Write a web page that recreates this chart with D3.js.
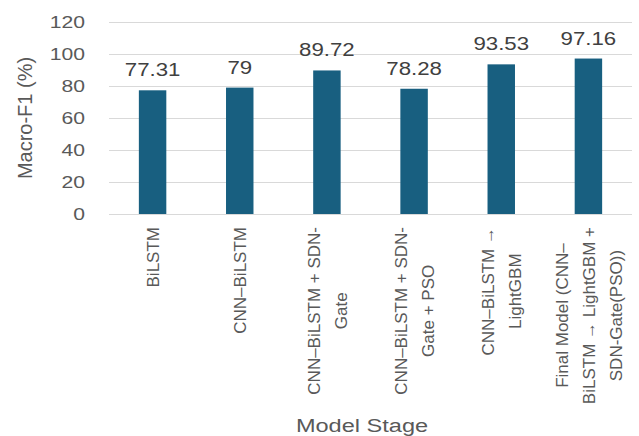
<!DOCTYPE html>
<html><head><meta charset="utf-8">
<script src="https://cdn.jsdelivr.net/npm/d3@7"></script>
<style>body{margin:0;background:#fff}svg{display:block}</style>
</head><body>
<svg id="chart" width="639" height="436"></svg>
<script>
const categories = [
  ["BiLSTM"],
  ["CNN–BiLSTM"],
  ["CNN–BiLSTM + SDN-", "Gate"],
  ["CNN–BiLSTM + SDN-", "Gate + PSO"],
  ["CNN–BiLSTM →", "LightGBM"],
  ["Final Model (CNN–", "BiLSTM → LightGBM +", "SDN-Gate(PSO))"]
];
const values = [77.31, 79, 89.72, 78.28, 93.53, 97.16];
const valueLabels = ["77.31", "79", "89.72", "78.28", "93.53", "97.16"];
const yTicks = [0, 20, 40, 60, 80, 100, 120];
const yTitle = "Macro-F1 (%)";
const xTitle = "Model Stage";

const svg = d3.select("#chart");
const plotLeft = 109, plotRight = 632, plotTop = 22, plotBottom = 214;
const font = "'Liberation Sans', Arial, sans-serif";
const ids = categories.map((c, i) => i);
const x = d3.scaleBand().domain(ids).range([plotLeft, plotRight]).paddingInner(0.685).paddingOuter(0.3425);
const y = d3.scaleLinear().domain([0, 120]).range([plotBottom, plotTop]);

// gridlines
svg.append("g").selectAll("line").data(yTicks).join("line")
  .attr("x1", plotLeft).attr("x2", plotRight)
  .attr("y1", d => y(d) + 0.5).attr("y2", d => y(d) + 0.5)
  .attr("stroke", "#d9d9d9").attr("stroke-width", 1.2);

// y tick labels
svg.append("g").selectAll("text").data(yTicks).join("text")
  .attr("transform", d => `translate(85,${y(d)}) scale(1.32,1)`)
  .attr("text-anchor", "end").attr("dy", "0.36em")
  .attr("font-family", font).attr("font-size", 16).attr("fill", "#595959")
  .text(d => d);

// bars
svg.append("g").selectAll("rect").data(values).join("rect")
  .attr("x", (d, i) => x(i)).attr("width", x.bandwidth())
  .attr("y", d => y(d)).attr("height", d => y(0) - y(d))
  .attr("fill", "#185f80");

// value labels
svg.append("g").selectAll("text").data(values).join("text")
  .attr("transform", (d, i) => `translate(${x(i) + x.bandwidth() / 2},${y(d) - 14}) scale(1.27,1)`)
  .attr("text-anchor", "middle")
  .attr("font-family", font).attr("font-size", 17.5).attr("fill", "#404040")
  .text((d, i) => valueLabels[i]);

// x category labels (rotated)
const lineGap = 27, labTop = 227;
categories.forEach((lines, i) => {
  const cx = x(i) + x.bandwidth() / 2;
  const g = svg.append("g").attr("transform", `translate(${cx},${labTop}) rotate(-90)`);
  const t = g.append("text").attr("font-family", font).attr("font-size", 17).attr("fill", "#595959")
    .attr("text-anchor", "middle");
  const tsp = lines.map((ln, j) => t.append("tspan")
    .attr("y", (j - (lines.length - 1) / 2) * lineGap).attr("dy", "0.36em").text(ln));
  const maxLen = d3.max(tsp, s => s.node().getComputedTextLength());
  tsp.forEach(s => s.attr("x", -maxLen / 2));
});

// axis titles
svg.append("text")
  .attr("transform", `translate(32,${(plotTop + plotBottom) / 2}) rotate(-90)`)
  .attr("text-anchor", "middle")
  .attr("font-family", font).attr("font-size", 20).attr("fill", "#595959")
  .text(yTitle);
svg.append("text")
  .attr("transform", `translate(362,432) scale(1.24,1)`)
  .attr("text-anchor", "middle")
  .attr("font-family", font).attr("font-size", 19).attr("fill", "#595959")
  .text(xTitle);
</script>
</body></html>
